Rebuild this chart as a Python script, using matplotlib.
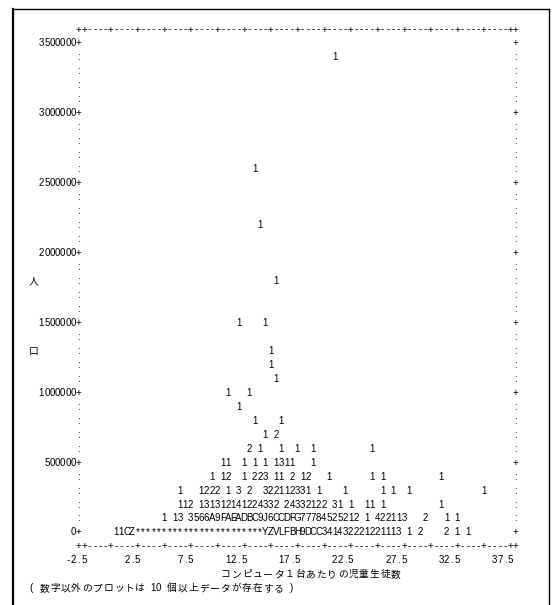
import matplotlib
matplotlib.use("Agg")
import matplotlib.pyplot as plt
from matplotlib.lines import Line2D
import unicodedata

# ---------------- data ----------------
y_ticks = [3500000, 3000000, 2500000, 2000000, 1500000, 1000000, 500000, 0]
x_ticks = [-2.5, 2.5, 7.5, 12.5, 17.5, 22.5, 27.5, 32.5, 37.5]
x_tick_labels = ["-2.5", "2.5", "7.5", "12.5", "17.5", "22.5", "27.5", "32.5", "37.5"]
x_title = "コンピュータ１台あたりの児童生徒数"
y_title_chars = ["人", "口"]
y_title_values = [1800000, 1300000]
note = "( 数字以外のプロットは 10 個以上データが存在する )"

# population (y) -> list of (students per computer at first symbol, symbols)
plot_rows = {
    3400000: [(21.0, "1")],
    2600000: [(13.5, "1")],
    2200000: [(14.0, "1")],
    1800000: [(15.5, "1")],
    1500000: [(12.0, "1"), (14.5, "1")],
    1300000: [(15.0, "1")],
    1200000: [(15.0, "1")],
    1100000: [(15.5, "1")],
    1000000: [(11.0, "1"), (13.0, "1")],
    900000: [(12.0, "1")],
    800000: [(13.5, "1"), (16.0, "1")],
    700000: [(14.5, "1"), (15.5, "2")],
    600000: [(13.0, "2"), (14.0, "1"), (16.0, "1"), (17.5, "1"), (19.0, "1"), (24.5, "1")],
    500000: [(10.5, "11"), (12.5, "1"), (13.5, "1"), (14.5, "1"), (15.5, "1311"), (19.0, "1")],
    400000: [(9.5, "1"), (10.5, "12"), (12.5, "1"), (13.5, "223"), (15.5, "11"), (17.0, "2"),
             (18.0, "12"), (20.5, "1"), (24.5, "1"), (25.5, "1"), (31.0, "1")],
    300000: [(6.5, "1"), (8.5, "1222"), (11.0, "1"), (12.0, "3"), (13.0, "2"),
             (14.5, "322112331"), (19.5, "1"), (22.0, "1"), (25.5, "1"), (26.5, "1"),
             (28.0, "1"), (35.0, "1")],
    200000: [(6.5, "112"), (8.5, "131312141224332"), (16.5, "24332122"), (21.0, "31"),
             (22.5, "1"), (24.0, "11"), (25.5, "1"), (31.0, "1")],
    100000: [(5.0, "1"), (6.0, "13"), (7.5, "3566A9FAEADBC9J6CCDFG77784525212"),
             (24.0, "1"), (25.0, "422113"), (29.5, "2"), (31.5, "1"), (32.5, "1")],
    0: [(0.5, "11CZ" + "*" * 24 + "YZVLFBH9DCC341432221221113"),
        (28.0, "1"), (29.0, "2"), (31.5, "2"), (32.5, "1"), (33.5, "1")],
}

# ---------------- character grid geometry ----------------
XSTEP = 0.5          # one print column
YSTEP = 100000       # one print line
X_AXIS_L = -3.0      # column of the left frame
X_AXIS_R = 38.0      # column of the right frame
Y_TOP = 3600000      # top frame line
Y_BOT = -100000      # bottom frame line

FAMILY = ["Liberation Sans", "Noto Sans CJK JP", "DejaVu Sans"]
FS = 7.0

fig = plt.figure(figsize=(5.55, 6.05), dpi=100)
ax = fig.add_axes([0, 0, 1, 1])
px_per_col = 5.33
px_per_row = 13.97
col0_px = 78.8
row0_px = 43.0
ax.set_xlim(X_AXIS_L - col0_px / px_per_col * XSTEP,
            X_AXIS_L + (555 - col0_px) / px_per_col * XSTEP)
ax.set_ylim(3500000 - (605 - row0_px) / px_per_row * YSTEP,
            3500000 + row0_px / px_per_row * YSTEP)
ax.axis("off")

BASE_OFF = 0.25 * YSTEP


def wide(ch):
    return unicodedata.east_asian_width(ch) in ("W", "F")


def put(x, y, s, color="black"):
    """Write string s on the print grid starting at data x, line y."""
    for ch in s:
        w = 2 if wide(ch) else 1
        if ch != " ":
            xc = x + (w - 1) * XSTEP / 2
            ax.text(xc, y - BASE_OFF, ch, ha="center", va="baseline",
                    fontsize=FS, family=FAMILY, color=color)
        x += w * XSTEP


# frame lines top / bottom
border = "++" + "----+" * 16 + "+"
put(X_AXIS_L, Y_TOP, border)
put(X_AXIS_L, Y_BOT, border)

# vertical axes
n_lines = int(round((y_ticks[0] - y_ticks[-1]) / YSTEP))
for i in range(n_lines + 1):
    y = y_ticks[0] - i * YSTEP
    ch = "+" if y in y_ticks else ":"
    put(X_AXIS_L, y, ch)
    put(X_AXIS_R, y, ch)

# y tick labels (right-aligned against the axis)
for v in y_ticks:
    lab = str(v)
    put(X_AXIS_L - len(lab) * XSTEP, v, lab)

# y title
for ch, v in zip(y_title_chars, y_title_values):
    put(X_AXIS_L - 9 * XSTEP, v, ch)

# x tick labels (right-aligned on the tick column)
for v, lab in zip(x_ticks, x_tick_labels):
    put(v - (len(lab) - 1) * XSTEP, Y_BOT - YSTEP, lab)

# x title and note
put(X_AXIS_L + 27 * XSTEP, Y_BOT - 2 * YSTEP, x_title)
put(X_AXIS_L - 9 * XSTEP, Y_BOT - 3 * YSTEP, note)

# plotted symbols
for y, items in plot_rows.items():
    for x, s in items:
        put(x, y, s)

# outer page frame
W, H = 555, 605
fig.add_artist(Line2D([13 / W, 13 / W], [0, 1 - 9 / H], color="black", lw=1.6,
                      transform=fig.transFigure))
fig.add_artist(Line2D([13 / W, 549 / W], [1 - 9 / H, 1 - 9 / H], color="black", lw=1.0,
                      transform=fig.transFigure))
fig.add_artist(Line2D([549 / W, 549 / W], [0, 1 - 9 / H], color="black", lw=1.0,
                      transform=fig.transFigure))

fig.savefig("out.png", dpi=100, facecolor="white")
